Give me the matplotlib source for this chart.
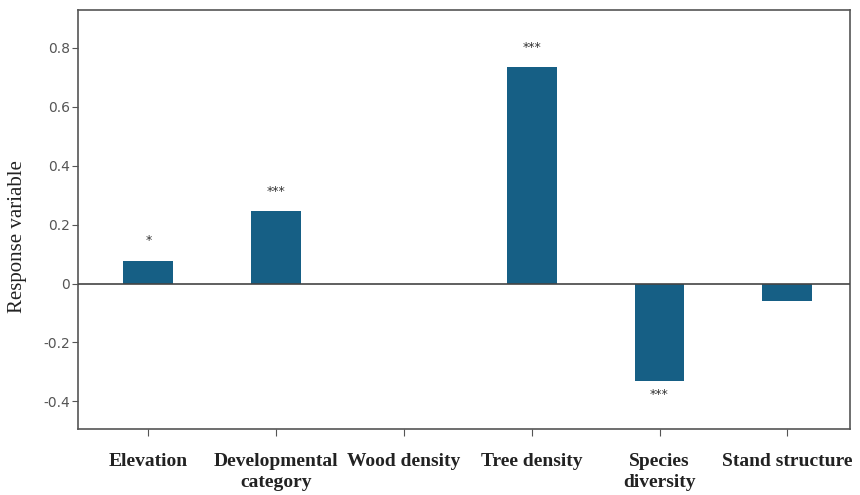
import matplotlib
matplotlib.use("Agg")
import matplotlib.pyplot as plt

# ---- data ----
CATEGORIES = ["Elevation", "Developmental\ncategory", "Wood density",
              "Tree density", "Species\ndiversity", "Stand structure"]
VALUES = [0.078, 0.246, 0.0, 0.734, -0.330, -0.060]
SIGNIF = ["*", "***", "", "***", "***", ""]
YTICKS = [-0.4, -0.2, 0, 0.2, 0.4, 0.6, 0.8]
YTICKLABELS = ["-0.4", "-0.2", "0", "0.2", "0.4", "0.6", "0.8"]

BAR_COLOR = "#165f85"
SPINE = "#555555"

fig = plt.figure(figsize=(8.6, 4.95), dpi=100)
ax = fig.add_axes([0.0907, 0.1333, 0.8976, 0.8465])

x = list(range(len(CATEGORIES)))
ax.bar(x, VALUES, width=0.39, color=BAR_COLOR, zorder=2)
ax.axhline(0, color="#444444", lw=1.2, zorder=3)

# significance stars above / below the bars
for xi, v, s in zip(x, VALUES, SIGNIF):
    if not s:
        continue
    if v >= 0:
        ax.text(xi, v + 0.045, s, ha="center", va="bottom", fontsize=9, color="#333333")
    else:
        ax.text(xi, v - 0.025, s, ha="center", va="top", fontsize=9, color="#333333")

ax.set_xlim(-0.55, 5.49)
ax.set_ylim(-0.494, 0.929)
ax.set_yticks(YTICKS)
ax.set_yticklabels(YTICKLABELS, fontsize=10, color="#555555")
ax.set_xticks(x)
ax.set_xticklabels(CATEGORIES, family="Liberation Serif", fontsize=14,
                   fontweight="bold", color="#222222", linespacing=1.3)
ax.tick_params(axis="y", length=4, color=SPINE, pad=2)
ax.tick_params(axis="x", length=5, color=SPINE, pad=12)
ax.set_ylabel("Response variable", family="Liberation Serif", fontsize=15,
              color="#222222")
ax.yaxis.set_label_coords(-0.066, 0.46)

for sp in ax.spines.values():
    sp.set_color(SPINE)
    sp.set_linewidth(1.2)

fig.savefig("out.png", dpi=100)
